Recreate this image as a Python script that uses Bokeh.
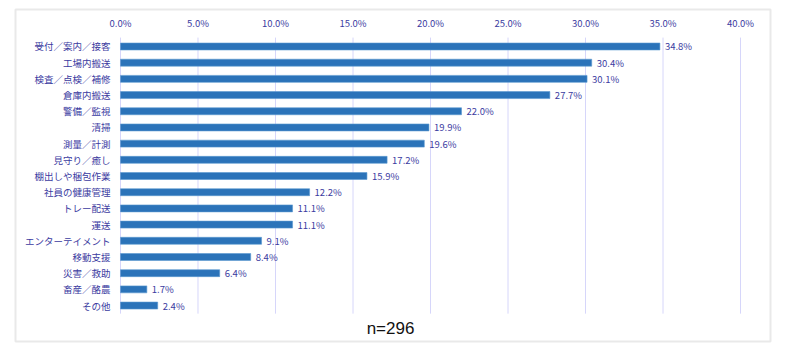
from bokeh.plotting import figure
from bokeh.models import ColumnDataSource, Range1d
from bokeh.core.properties import value
from bokeh.embed import file_html
from bokeh.resources import INLINE

categories = ["受付／案内／接客", "工場内搬送", "検査／点検／補修", "倉庫内搬送", "警備／監視", "清掃",
              "測量／計測", "見守り／癒し", "棚出しや梱包作業", "社員の健康管理", "トレー配送", "運送",
              "エンターテイメント", "移動支援", "災害／救助", "畜産／酪農", "その他"]
values = [34.8, 30.4, 30.1, 27.7, 22.0, 19.9, 19.6, 17.2, 15.9, 12.2, 11.1, 11.1, 9.1, 8.4, 6.4, 1.7, 2.4]
x_ticks = [0, 5, 10, 15, 20, 25, 30, 35, 40]
sample_note = "n=296"

TEXT = "#3b3b9f"
BAR = "#2b73b9"
GRID = "#d6d6fa"
JP = "Noto Sans CJK JP"

idx = list(range(len(categories)))
labels = ["%.1f%%" % v for v in values]
src = ColumnDataSource(dict(y=idx, cat=categories, val=values, lab=labels))
tick_src = ColumnDataSource(dict(x=x_ticks, lab=["%.1f%%" % t for t in x_ticks]))

p = figure(width=772, height=343, output_backend="svg", toolbar_location=None,
           x_range=Range1d(-6.774, 41.935), y_range=Range1d(18.22, -2.285),
           min_border_left=15, min_border_right=2, min_border_top=9, min_border_bottom=2)
p.axis.visible = False
p.grid.visible = False
p.outline_line_color = "#e9e9e9"
p.outline_line_width = 2
p.background_fill_color = "white"
p.border_fill_color = "white"

# vertical grid lines at the tick values
n = len(categories)
p.segment(x0="x", x1="x", y0=-0.55, y1=n - 0.5, source=tick_src, line_color=GRID, line_width=1)

# bars
p.hbar(y="y", right="val", left=0, height=0.43, source=src, fill_color=BAR,
       line_color="#5b98d0", line_width=0.6)

# value labels
p.text(x="val", y="y", text="lab", source=src, x_offset=5, text_baseline="middle",
       text_align="left", text_font=value(JP), text_font_size="9.5px", text_color=TEXT)

# category labels (left axis)
p.text(x=-0.645, y="y", text="cat", source=src, text_baseline="middle", text_align="right",
       text_font=value(JP), text_font_size="9.5px", text_color=TEXT)

# tick labels (top axis)
p.text(x="x", y=-1.48, text="lab", source=tick_src, text_baseline="middle", text_align="center",
       text_font=value(JP), text_font_size="9.5px", text_color=TEXT)

# sample size note
p.text(x=[17.42], y=[17.42], text=[sample_note], text_baseline="middle", text_align="center",
       text_font=value("Liberation Sans"), text_font_size="17px", text_color="#111111")

open("out.html", "w").write(file_html(p, INLINE))
